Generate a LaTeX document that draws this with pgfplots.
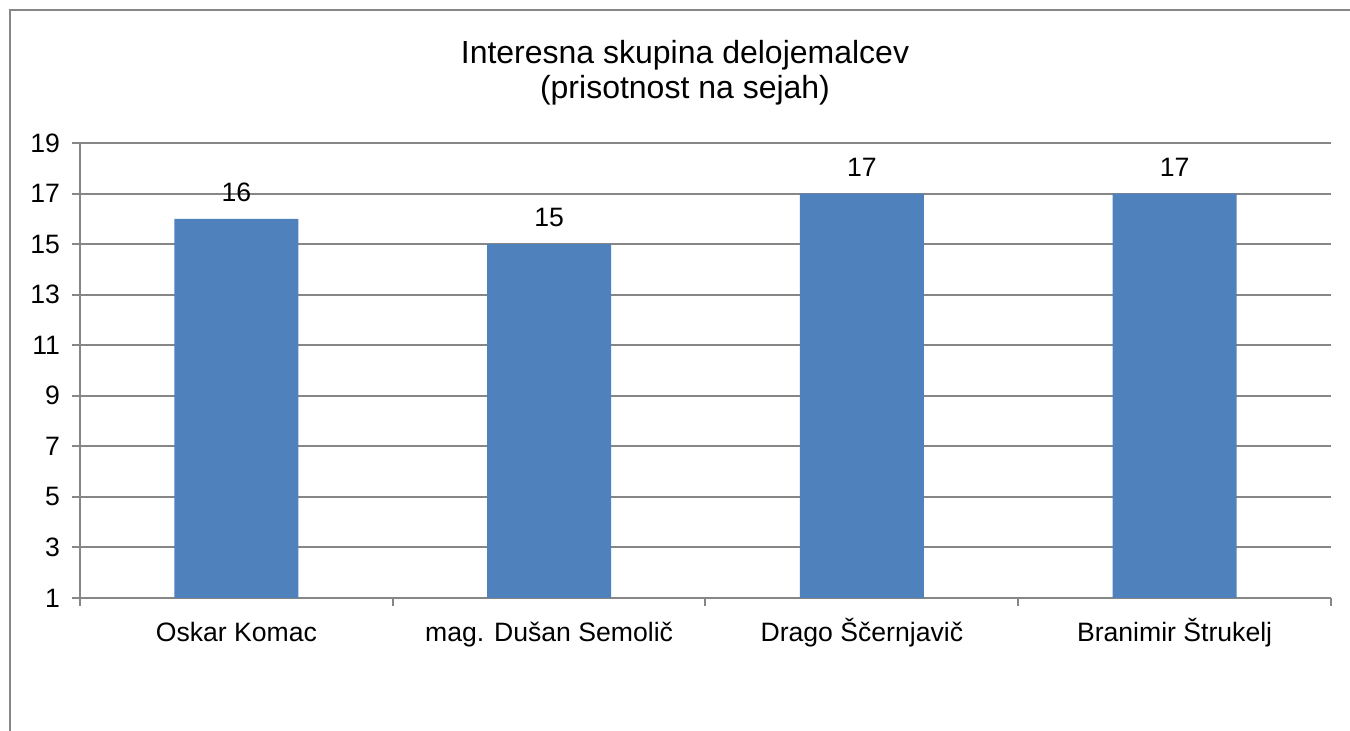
\documentclass[border=0pt]{standalone}
\usepackage{fontspec}
\setmainfont{Liberation Sans}
\usepackage{pgfplots}
\pgfplotsset{compat=1.18}
\definecolor{barblue}{HTML}{4F81BD}
\definecolor{gridgray}{HTML}{868686}

\begin{document}
\begin{tikzpicture}
\begin{axis}[
    name=ax,
    scale only axis,
    width=625.5pt, height=227.5pt,
    ybar, bar width=62pt,
    xmin=-0.5, xmax=3.5,
    ymin=1, ymax=19,
    ytick={1,3,...,19},
    xtick={0,1,2,3},
    xticklabels={Oskar Komac, mag. Dušan Semolič, Drago Ščernjavič, Branimir Štrukelj},
    minor xtick={-0.5,0.5,1.5,2.5,3.5},
    major x tick style={draw=none},
    axis x line*=bottom, axis y line*=left,
    axis line style={gridgray, line width=1pt},
    tick align=outside,
    major tick length=4pt, minor tick length=4pt,
    every tick/.style={gridgray, line width=1pt},
    ymajorgrids,
    grid style={gridgray, line width=1pt},
    ticklabel style={font=\fontsize{13.3}{16}\selectfont},
    xticklabel style={text height=10pt, text depth=3pt, yshift=-4pt},
    yticklabel style={xshift=-2.5pt},
    /pgf/number format/assume math mode=true,
    nodes near coords,
    every node near coord/.append style={font=\fontsize{13.3}{16}\selectfont, yshift=5pt},
]
\addplot[fill=barblue, draw=none] coordinates {(0,16) (1,15) (2,17) (3,17)};
\end{axis}
\draw[gridgray, line width=1pt] ([shift={(-35pt,-100pt)}]ax.south west) -- ([shift={(-35pt,294pt)}]ax.south west) -- ([shift={(700pt,294pt)}]ax.south west);
\node[align=center, font=\fontsize{16}{17.5}\selectfont] at ([shift={(302.5pt,262.5pt)}]ax.south west) {Interesna skupina delojemalcev\\(prisotnost na sejah)};
\pgfresetboundingbox
\path[use as bounding box] ([shift={(-40pt,-66.5pt)}]ax.south west) rectangle ++(675pt,365.5pt);
\end{tikzpicture}
\end{document}
